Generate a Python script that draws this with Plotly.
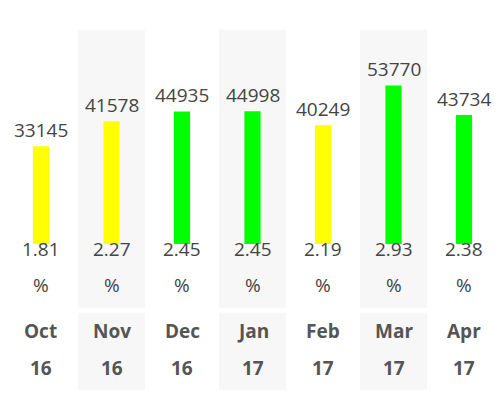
import plotly.graph_objects as go

months = ["Oct", "Nov", "Dec", "Jan", "Feb", "Mar", "Apr", "May"]
years = ["16", "16", "16", "17", "17", "17", "17", "17"]
values = [33145, 41578, 44935, 44998, 40249, 53770, 43734, 51000]
pcts = ["1.81", "2.27", "2.45", "2.45", "2.19", "2.93", "2.38", "2.70"]
colors = ["#ffff00", "#ffff00", "#00ff00", "#00ff00", "#ffff00", "#00ff00", "#00ff00", "#00ff00"]
shaded = [1, 3, 5, 7]

x = list(range(len(values)))
fig = go.Figure(go.Bar(x=x, y=values, marker_color=colors, width=0.23,
                       marker_line_width=0, hoverinfo="skip"))
font = dict(family="Open Sans", size=19, color="#444")
ann = []
for i in x:
    ann.append(dict(x=i, y=values[i], text=str(values[i]), showarrow=False,
                    yanchor="bottom", yshift=1, font=font))
    for txt, py, bold in [(pcts[i], 0.41, False), ("%", 0.287, False),
                          (months[i], 0.173, True), (years[i], 0.083, True)]:
        ann.append(dict(x=i, y=py, yref="paper", text=f"<b>{txt}</b>" if bold else txt,
                        showarrow=False, font=dict(family="Open Sans", size=19,
                        color="#555" if bold else "#444")))
shapes = []
for i in shaded:
    for y0, y1 in [(0.267, 0.947), (0.255, 0.066)]:
        shapes.append(dict(type="rect", xref="x", yref="paper", x0=i - 0.475, x1=i + 0.475,
                           y0=min(y0, y1), y1=max(y0, y1), fillcolor="#f7f7f7",
                           line_width=0, layer="below"))
# fix: two separate blocks (upper and lower)
shapes = []
for i in shaded:
    for y0, y1 in [(0.267, 0.947), (0.066, 0.255)]:
        shapes.append(dict(type="rect", xref="x", yref="paper", x0=i - 0.475, x1=i + 0.475,
                           y0=y0, y1=y1, fillcolor="#f7f7f7", line_width=0, layer="below"))
fig.update_layout(width=500, height=409, margin=dict(l=0, r=0, t=0, b=0),
                  plot_bgcolor="white", paper_bgcolor="white", showlegend=False,
                  annotations=ann, shapes=shapes,
                  xaxis=dict(range=[-0.468, 6.624], visible=False),
                  yaxis=dict(range=[-58644, 80000], visible=False))
fig.write_html("out.html")
